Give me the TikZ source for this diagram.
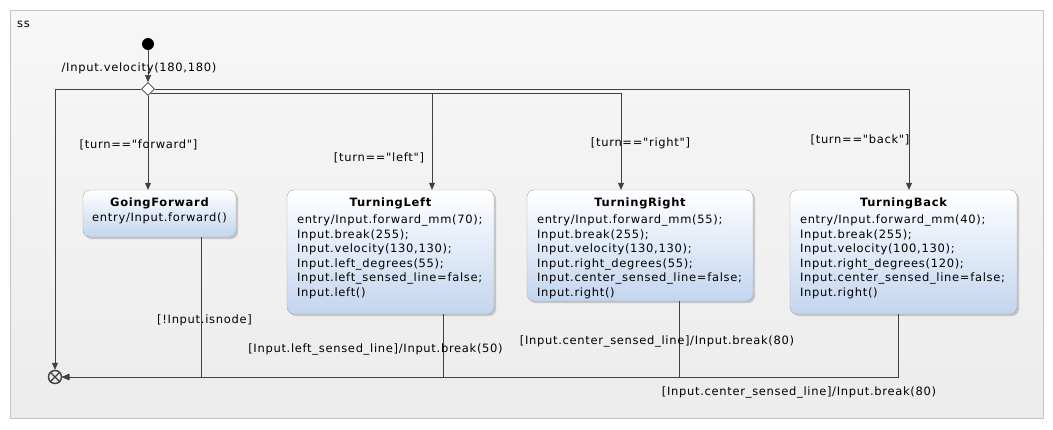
\documentclass[tikz,border=0pt]{standalone}
\usepackage{fontspec}
\setmainfont{DejaVu Sans}[Ligatures=TeXOff, LetterSpace=6]
\usetikzlibrary{positioning,shapes.geometric,arrows.meta,shadows}

\definecolor{frameline}{HTML}{C4C4C4}
\definecolor{frametop}{HTML}{F7F7F7}
\definecolor{framebot}{HTML}{ECECEC}
\definecolor{stline}{HTML}{A8A8A8}
\definecolor{stblue}{HTML}{C3D5EF}
\definecolor{arrowline}{HTML}{404040}

\begin{document}
\begin{tikzpicture}[x=1pt, y=-1pt, font=\fontsize{11.5}{14.5}\selectfont,
  st/.style={draw=stline, rounded corners=7pt, top color=white, bottom color=stblue, drop shadow={shadow xshift=2pt, shadow yshift=-2pt, opacity=.3, fill=black!60}},
  ttl/.style={font=\fontsize{11.5}{14.5}\selectfont\bfseries, inner sep=0pt},
  body/.style={align=left, inner sep=0pt},
  lbl/.style={inner sep=0pt},
  tr/.style={draw=arrowline, -{Triangle[length=7pt,width=6pt]}}]
  \useasboundingbox (0,0) rectangle (1053,429);
  \draw[frameline, top color=frametop, bottom color=framebot] (10,10) rectangle (1043,418);
  \node[lbl, anchor=west] (ss) at (17,24) {ss};

  % pseudo states
  \node[circle, fill=black, minimum size=12pt, inner sep=0pt] (I) at (148,44) {};
  \node[diamond, draw=arrowline, fill=white, line width=.8pt, minimum size=13pt, inner sep=0pt] (D) at (148,89) {};
  \node[circle, draw=arrowline, line width=1.4pt, minimum size=13pt, inner sep=0pt] (E) at (55,377) {};
  \draw[arrowline, line width=1.4pt] (E.north west) -- (E.south east) (E.north east) -- (E.south west);

  % states
  \node[st, minimum width=153pt, minimum height=47pt] (GF) at (159.5,213.5) {};
  \node[ttl, below=8pt of GF.north] (GF_t) {GoingForward};
  \node[below=3pt of GF_t, inner sep=0pt] (GF_b) {entry/Input.forward()};

  \node[st, minimum width=207pt, minimum height=124pt] (TL) at (390.5,252) {};
  \node[ttl, below=8pt of TL.north] (TL_t) {TurningLeft};
  \node[body, below right=25pt and 10pt of TL.north west] (TL_b) {entry/Input.forward\_mm(70);\\Input.break(255);\\Input.velocity(130,130);\\Input.left\_degrees(55);\\Input.left\_sensed\_line=false;\\Input.left()};

  \node[st, minimum width=226pt, minimum height=111pt] (TR) at (640,245.5) {};
  \node[ttl, below=8pt of TR.north] (TR_t) {TurningRight};
  \node[body, below right=25pt and 10pt of TR.north west] (TR_b) {entry/Input.forward\_mm(55);\\Input.break(255);\\Input.velocity(130,130);\\Input.right\_degrees(55);\\Input.center\_sensed\_line=false;\\Input.right()};

  \node[st, minimum width=227pt, minimum height=124pt] (TB) at (903.5,252) {};
  \node[ttl, below=8pt of TB.north] (TB_t) {TurningBack};
  \node[body, below right=25pt and 10pt of TB.north west] (TB_b) {entry/Input.forward\_mm(40);\\Input.break(255);\\Input.velocity(100,130);\\Input.right\_degrees(120);\\Input.center\_sensed\_line=false;\\Input.right()};

  % transitions
  \draw[tr] (I) -- (D);
  \draw[tr] (D.west) -| (E.north);
  \draw[tr] (D.south) -- (D.south |- GF.north);
  \draw[tr] ([yshift=-1pt]D.south east) -| ([xshift=41.5pt]TL.north);
  \draw[tr] ([yshift=-1pt]D.south east) -| ([xshift=-19pt]TR.north);
  \draw[tr] (D.east) -| ([xshift=5.5pt]TB.north);
  \draw[tr] ([xshift=41.5pt]GF.south) |- (E.east);
  \draw[tr] ([xshift=52.5pt]TL.south) |- (E.east);
  \draw[tr] ([xshift=39pt]TR.south) |- (E.east);
  \draw[tr] ([xshift=-5.5pt]TB.south) |- (E.east);

  % labels
  \node[lbl] (vel) at (139,68) {/Input.velocity(180,180)};
  \node[lbl] (g_fw) at (138.5,145) {[turn=="forward"]};
  \node[lbl] (g_left) at (379,158) {[turn=="left"]};
  \node[lbl] (g_right) at (640.5,143) {[turn=="right"]};
  \node[lbl] (g_back) at (860,140) {[turn=="back"]};
  \node[lbl] (g_node) at (204.5,320) {[!Input.isnode]};
  \node[lbl] (g_lsl) at (375.5,349) {[Input.left\_sensed\_line]/Input.break(50)};
  \node[lbl] (g_csl1) at (657,341) {[Input.center\_sensed\_line]/Input.break(80)};
  \node[lbl] (g_csl2) at (799,392) {[Input.center\_sensed\_line]/Input.break(80)};
\end{tikzpicture}
\end{document}
